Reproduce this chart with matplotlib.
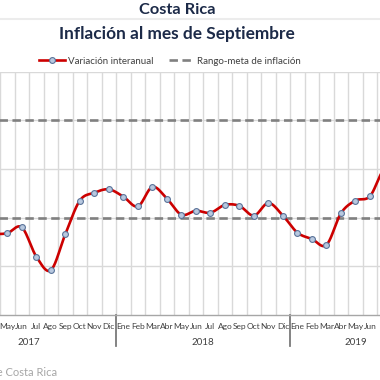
import numpy as np
import matplotlib.pyplot as plt
from matplotlib.lines import Line2D
from matplotlib.transforms import blended_transform_factory

plt.rcParams['font.family'] = ['Lato', 'DejaVu Sans']

# Datos: variación interanual del IPC (%), abr 2017 - sep 2019
meses = ['Abr', 'May', 'Jun', 'Jul', 'Ago', 'Sep', 'Oct', 'Nov', 'Dic',
         'Ene', 'Feb', 'Mar', 'Abr', 'May', 'Jun', 'Jul', 'Ago', 'Sep', 'Oct', 'Nov', 'Dic',
         'Ene', 'Feb', 'Mar', 'Abr', 'May', 'Jun', 'Jul', 'Ago', 'Sep']
inflacion = [1.66, 1.68, 1.80, 1.20, 0.92, 1.66, 2.35, 2.51, 2.58,
             2.43, 2.23, 2.63, 2.39, 2.06, 2.14, 2.10, 2.26, 2.24, 2.04, 2.30, 2.04,
             1.69, 1.56, 1.44, 2.09, 2.35, 2.44, 3.00, 2.95, 2.55]
meta_inf = [2.0] * len(meses)
meta_sup = [4.0] * len(meses)
anios = ['2017', '2018', '2019']
# inicio y fin (índices) de cada año en el eje
anio_ini = [-3, 9, 21]
anio_fin = [8, 20, 29]


def suavizar(x, y, n=20):
    # curva tipo Catmull-Rom para imitar la línea suavizada de Excel
    x = np.asarray(x, float)
    y = np.asarray(y, float)
    px = np.concatenate([[2 * x[0] - x[1]], x, [2 * x[-1] - x[-2]]])
    py = np.concatenate([[2 * y[0] - y[1]], y, [2 * y[-1] - y[-2]]])
    t = np.linspace(0, 1, n, endpoint=False)
    xs, ys = [], []
    for i in range(1, len(px) - 2):
        for p, out in ((px, xs), (py, ys)):
            p0, p1, p2, p3 = p[i - 1], p[i], p[i + 1], p[i + 2]
            out.extend(0.5 * (2 * p1 + (-p0 + p2) * t
                              + (2 * p0 - 5 * p1 + 4 * p2 - p3) * t ** 2
                              + (-p0 + 3 * p1 - 3 * p2 + p3) * t ** 3))
    xs.append(x[-1])
    ys.append(y[-1])
    return np.array(xs), np.array(ys)


x = np.arange(len(meses))

fig = plt.figure(figsize=(3.8, 3.8), dpi=100)
ax = fig.add_axes([0, 65 / 380, 1, 243.5 / 380])

grid_col = '#d9d9d9'
for b in np.arange(-0.5, len(meses), 1):
    ax.axvline(b, color=grid_col, lw=1, zorder=0)
for v in range(1, 6):
    ax.axhline(v, color=grid_col, lw=1, zorder=0)

ax.plot(x, meta_inf, color='#808080', lw=1.9, dashes=(3.2, 1.7), zorder=2)
ax.plot(x, meta_sup, color='#808080', lw=1.9, dashes=(3.2, 1.7), zorder=2)

xs, ys = suavizar(x, inflacion)
ax.plot(xs, ys, color='#cc0000', lw=1.9, zorder=3, solid_capstyle='round')
ax.plot(x, inflacion, ls='none', marker='o', ms=4.2, mfc='#b8c8df',
        mec='#5a7399', mew=0.8, zorder=4)

ax.set_yticks([])
ax.set_xticks(x)
ax.set_xticklabels(meses, fontsize=6.0, color='#404040')
ax.tick_params(axis='x', length=0, pad=6)
ax.set_xlim(0.497, 26.69)
ax.set_ylim(0, 5)
for s in ['top', 'right', 'left']:
    ax.spines[s].set_visible(False)
ax.spines['bottom'].set_color('#a6a6a6')
ax.spines['bottom'].set_linewidth(1)

tr = blended_transform_factory(ax.transData, ax.transAxes)
for nombre, a, b in zip(anios, anio_ini, anio_fin):
    ax.text((a + b) / 2, -0.112, nombre, transform=tr, ha='center',
            va='center', fontsize=7, color='#404040')
    for borde in (a - 0.5, b + 0.5):
        ax.plot([borde, borde], [0, -0.128], transform=tr, color='#808080',
                lw=1.1, clip_on=False)
ax.set_xlim(0.497, 26.69)

# títulos
fig.text(177 / 380, 1 - 10 / 380, 'Costa Rica', ha='center', va='center',
         fontsize=11.8, fontweight='bold', color='#1c2a48')
fig.add_artist(Line2D([0, 1], [1 - 19 / 380] * 2, color='#ececec', lw=1.5))
fig.text(177 / 380, 1 - 34 / 380, 'Inflación al mes de Septiembre',
         ha='center', va='center', fontsize=12.4, fontweight='bold',
         color='#1c2a48')

h1 = Line2D([], [], color='#cc0000', lw=1.9, marker='o', ms=4.2,
            mfc='#b8c8df', mec='#5a7399', mew=0.8)
h2 = Line2D([], [], color='#808080', lw=1.9, dashes=(3.2, 1.7))
fig.legend([h1, h2], ['Variación interanual', 'Rango-meta de inflación'],
           loc='center', bbox_to_anchor=(170 / 380, 1 - 61 / 380), ncol=2,
           frameon=False, fontsize=7, handlelength=2.6, handletextpad=0.3,
           columnspacing=1.6, labelcolor='#404040')

fig.text(57 / 380, 1 - 372 / 380, 'Fuente: Banco Central de Costa Rica',
         ha='right', va='center', fontsize=8, color='#a6a6a6')

fig.savefig('out.png', dpi=100)
